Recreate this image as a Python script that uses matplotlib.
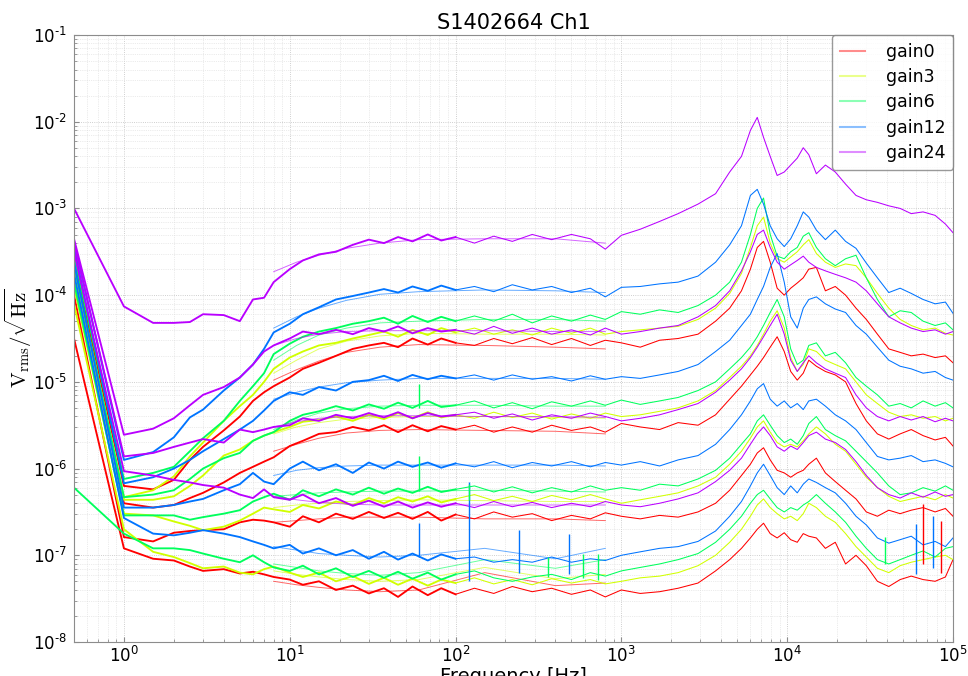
import numpy as np
import matplotlib
matplotlib.use("Agg")
import matplotlib.pyplot as plt
from matplotlib.lines import Line2D
from matplotlib.ticker import FuncFormatter, LogLocator, NullFormatter

# Frequency grids (Hz): low-band sweep, averaged mid-band sweep and high-band sweep
f_low = [0.5, 1, 1.5, 2, 2.5, 3, 4, 5, 6, 7, 8, 10, 12, 15, 19, 24, 30, 37, 45, 55, 68, 82, 100]
f_mid = [8, 11, 15, 22, 35, 60, 150, 400, 800]
f_high = [100, 130, 170, 220, 290, 380, 500, 650, 800, 1000, 1300, 1700, 2200, 2900, 3700,
          4500, 5300, 6000, 6600, 7200, 7900, 8700, 9600, 10500, 11500, 12500, 13500, 15000,
          17000, 19500, 22500, 26000, 30000, 35000, 41000, 48000, 56000, 66000, 78000, 90000, 100000]

labels = ["gain0", "gain3", "gain6", "gain12", "gain24"]

# log10(V_rms/sqrt(Hz)) for four input levels per gain setting
gain0_low = [
    [-3.60, -6.20, -6.24, -6.13, -5.90, -5.75, -5.56, -5.40, -5.22, -5.12, -5.05, -4.95, -4.85, -4.78, -4.70, -4.62, -4.58, -4.55, -4.60, -4.50, -4.57, -4.50, -4.55],
    [-3.72, -6.40, -6.45, -6.42, -6.34, -6.28, -6.16, -6.05, -5.98, -5.92, -5.87, -5.74, -5.68, -5.60, -5.58, -5.52, -5.56, -5.50, -5.58, -5.50, -5.57, -5.51, -5.55],
    [-4.00, -6.79, -6.84, -6.74, -6.72, -6.71, -6.70, -6.62, -6.59, -6.60, -6.62, -6.67, -6.55, -6.62, -6.52, -6.58, -6.50, -6.57, -6.51, -6.58, -6.50, -6.60, -6.53],
    [-4.50, -6.92, -7.04, -7.06, -7.13, -7.18, -7.16, -7.21, -7.19, -7.22, -7.25, -7.28, -7.34, -7.30, -7.40, -7.35, -7.44, -7.38, -7.48, -7.36, -7.46, -7.38, -7.45],
]
gain0_mid = [
    [-4.98, -4.86, -4.76, -4.66, -4.60, -4.57, -4.58, -4.60, -4.62],
    [-5.80, -5.72, -5.65, -5.59, -5.56, -5.55, -5.56, -5.57, -5.60],
    [-6.62, -6.60, -6.58, -6.56, -6.56, -6.56, -6.58, -6.58, -6.60],
    [-7.30, -7.34, -7.37, -7.40, -7.42, -7.40, -7.20, -7.35, -7.32],
]
gain0_high = [
    [-4.55, -4.58, -4.50, -4.56, -4.49, -4.57, -4.50, -4.58, -4.52, -4.55, -4.60, -4.52, -4.50, -4.45, -4.30, -4.15, -3.95, -3.70, -3.45, -3.38, -3.62, -3.92, -4.00, -3.92, -3.86, -3.80, -3.70, -3.68, -3.95, -3.90, -4.00, -4.15, -4.28, -4.45, -4.62, -4.66, -4.70, -4.68, -4.72, -4.70, -4.78],
    [-5.55, -5.50, -5.58, -5.52, -5.58, -5.50, -5.56, -5.52, -5.58, -5.48, -5.52, -5.55, -5.47, -5.50, -5.38, -5.20, -5.05, -4.92, -4.82, -4.72, -4.60, -4.48, -4.65, -4.88, -4.98, -4.90, -4.75, -4.82, -4.88, -4.92, -5.00, -5.25, -5.45, -5.60, -5.66, -5.60, -5.55, -5.62, -5.67, -5.64, -5.74],
    [-6.53, -6.58, -6.50, -6.56, -6.52, -6.60, -6.54, -6.58, -6.51, -6.55, -6.58, -6.54, -6.56, -6.50, -6.40, -6.25, -6.08, -5.95, -5.82, -5.76, -5.90, -6.02, -6.05, -6.10, -6.05, -6.02, -5.95, -5.88, -6.05, -6.15, -6.25, -6.35, -6.50, -6.55, -6.48, -6.52, -6.48, -6.45, -6.50, -6.46, -6.55],
    [-7.45, -7.38, -7.44, -7.36, -7.42, -7.38, -7.45, -7.40, -7.48, -7.40, -7.44, -7.42, -7.38, -7.32, -7.18, -7.05, -6.92, -6.80, -6.70, -6.63, -6.75, -6.80, -6.74, -6.82, -6.85, -6.75, -6.78, -6.80, -6.92, -6.85, -7.10, -7.00, -7.12, -7.30, -7.36, -7.28, -7.24, -7.28, -7.30, -7.25, -7.05],
]

gain3_low = [
    [-3.70, -6.33, -6.25, -6.09, -5.86, -5.70, -5.45, -5.28, -5.15, -5.00, -4.85, -4.72, -4.65, -4.58, -4.55, -4.50, -4.46, -4.42, -4.48, -4.40, -4.46, -4.38, -4.43],
    [-3.80, -6.36, -6.36, -6.32, -6.20, -6.08, -5.85, -5.78, -5.68, -5.62, -5.58, -5.52, -5.46, -5.44, -5.40, -5.45, -5.38, -5.43, -5.36, -5.42, -5.35, -5.41, -5.38],
    [-3.90, -6.52, -6.54, -6.61, -6.66, -6.71, -6.67, -6.60, -6.52, -6.45, -6.47, -6.50, -6.42, -6.46, -6.38, -6.42, -6.34, -6.40, -6.33, -6.38, -6.32, -6.39, -6.35],
    [-4.10, -6.70, -6.96, -7.02, -7.09, -7.15, -7.13, -7.20, -7.22, -7.16, -7.13, -7.20, -7.25, -7.20, -7.30, -7.24, -7.33, -7.26, -7.34, -7.27, -7.35, -7.28, -7.32],
]
gain3_mid = [
    [-4.90, -4.75, -4.62, -4.53, -4.47, -4.44, -4.45, -4.45, -4.46],
    [-5.60, -5.52, -5.47, -5.43, -5.41, -5.40, -5.40, -5.41, -5.42],
    [-6.45, -6.42, -6.40, -6.38, -6.37, -6.36, -6.37, -6.38, -6.38],
    [-7.18, -7.22, -7.25, -7.28, -7.30, -7.28, -7.14, -7.27, -7.22],
]
gain3_high = [
    [-4.43, -4.38, -4.45, -4.40, -4.46, -4.38, -4.44, -4.38, -4.45, -4.42, -4.40, -4.38, -4.36, -4.28, -4.15, -3.98, -3.75, -3.45, -3.20, -3.10, -3.40, -3.58, -3.62, -3.56, -3.50, -3.42, -3.36, -3.52, -3.62, -3.68, -3.64, -3.66, -3.80, -3.98, -4.15, -4.28, -4.35, -4.40, -4.38, -4.44, -4.46],
    [-5.38, -5.42, -5.35, -5.41, -5.36, -5.43, -5.37, -5.42, -5.36, -5.40, -5.38, -5.34, -5.30, -5.22, -5.10, -4.95, -4.82, -4.70, -4.58, -4.45, -4.30, -4.18, -4.38, -4.72, -4.88, -4.80, -4.62, -4.65, -4.75, -4.80, -4.85, -5.00, -5.15, -5.25, -5.35, -5.40, -5.38, -5.42, -5.40, -5.45, -5.42],
    [-6.35, -6.30, -6.37, -6.32, -6.38, -6.31, -6.36, -6.30, -6.35, -6.40, -6.36, -6.32, -6.28, -6.20, -6.10, -5.95, -5.80, -5.65, -5.52, -5.45, -5.58, -5.70, -5.75, -5.72, -5.75, -5.68, -5.60, -5.52, -5.60, -5.72, -5.80, -5.95, -6.10, -6.22, -6.32, -6.38, -6.35, -6.32, -6.36, -6.30, -6.34],
    [-7.32, -7.26, -7.33, -7.28, -7.34, -7.27, -7.32, -7.28, -7.33, -7.30, -7.26, -7.24, -7.20, -7.12, -7.00, -6.85, -6.70, -6.55, -6.42, -6.35, -6.45, -6.52, -6.58, -6.55, -6.60, -6.52, -6.40, -6.45, -6.55, -6.62, -6.75, -6.90, -7.02, -7.15, -7.20, -7.12, -7.08, -7.05, -7.02, -7.00, -7.05],
]

gain6_low = [
    [-3.55, -6.12, -6.05, -5.98, -5.80, -5.65, -5.45, -5.22, -5.05, -4.90, -4.68, -4.56, -4.48, -4.42, -4.38, -4.33, -4.30, -4.26, -4.33, -4.24, -4.31, -4.25, -4.30],
    [-3.65, -6.33, -6.30, -6.25, -6.12, -6.00, -5.88, -5.82, -5.68, -5.62, -5.58, -5.45, -5.38, -5.34, -5.28, -5.33, -5.26, -5.31, -5.24, -5.30, -5.22, -5.29, -5.27],
    [-3.85, -6.54, -6.54, -6.54, -6.59, -6.56, -6.52, -6.48, -6.38, -6.33, -6.29, -6.36, -6.25, -6.32, -6.24, -6.30, -6.22, -6.29, -6.23, -6.28, -6.21, -6.27, -6.24],
    [-6.22, -6.75, -6.92, -6.92, -6.94, -6.98, -7.04, -7.08, -7.00, -7.08, -7.14, -7.18, -7.12, -7.22, -7.15, -7.25, -7.18, -7.26, -7.19, -7.27, -7.20, -7.28, -7.22],
]
gain6_mid = [
    [-4.75, -4.58, -4.46, -4.38, -4.32, -4.30, -4.28, -4.28, -4.30],
    [-5.55, -5.44, -5.36, -5.31, -5.28, -5.27, -5.27, -5.28, -5.28],
    [-6.32, -6.30, -6.28, -6.27, -6.26, -6.26, -6.25, -6.26, -6.27],
    [-7.10, -7.14, -7.18, -7.21, -7.23, -7.20, -7.05, -7.15, -7.05],
]
gain6_high = [
    [-4.30, -4.24, -4.30, -4.22, -4.32, -4.24, -4.30, -4.23, -4.28, -4.19, -4.22, -4.17, -4.20, -4.12, -4.00, -3.85, -3.62, -3.30, -3.00, -2.88, -3.30, -3.55, -3.58, -3.50, -3.45, -3.32, -3.28, -3.45, -3.58, -3.66, -3.58, -3.54, -3.80, -4.05, -4.25, -4.18, -4.20, -4.30, -4.35, -4.32, -4.40],
    [-5.27, -5.22, -5.30, -5.24, -5.31, -5.23, -5.28, -5.22, -5.27, -5.21, -5.26, -5.22, -5.18, -5.10, -5.00, -4.85, -4.72, -4.60, -4.48, -4.35, -4.20, -4.05, -4.25, -4.62, -4.80, -4.75, -4.58, -4.55, -4.70, -4.66, -4.78, -4.95, -5.05, -5.15, -5.28, -5.25, -5.30, -5.22, -5.28, -5.24, -5.30],
    [-6.24, -6.20, -6.27, -6.21, -6.28, -6.22, -6.27, -6.20, -6.25, -6.22, -6.25, -6.18, -6.20, -6.12, -6.02, -5.88, -5.72, -5.60, -5.45, -5.38, -5.50, -5.62, -5.70, -5.66, -5.72, -5.62, -5.48, -5.40, -5.55, -5.62, -5.68, -5.80, -5.92, -6.05, -6.20, -6.30, -6.28, -6.22, -6.26, -6.20, -6.25],
    [-7.22, -7.18, -7.26, -7.30, -7.25, -7.22, -7.28, -7.20, -7.24, -7.18, -7.14, -7.10, -7.05, -6.98, -6.85, -6.70, -6.55, -6.40, -6.30, -6.25, -6.35, -6.45, -6.50, -6.45, -6.48, -6.42, -6.38, -6.30, -6.40, -6.50, -6.62, -6.78, -6.92, -7.05, -7.10, -7.05, -7.00, -6.95, -7.02, -6.92, -6.90],
]

gain12_low = [
    [-3.38, -5.90, -5.81, -5.64, -5.41, -5.32, -5.10, -4.95, -4.80, -4.62, -4.43, -4.33, -4.22, -4.14, -4.05, -4.01, -3.97, -3.93, -3.97, -3.90, -3.95, -3.89, -3.94],
    [-3.45, -6.17, -6.10, -6.00, -5.90, -5.80, -5.66, -5.55, -5.45, -5.33, -5.22, -5.12, -5.15, -5.06, -5.10, -5.00, -4.98, -4.93, -4.99, -4.92, -4.97, -4.93, -4.96],
    [-3.62, -6.45, -6.45, -6.42, -6.38, -6.35, -6.25, -6.18, -6.05, -6.15, -6.18, -6.00, -5.92, -6.02, -5.95, -6.05, -5.93, -6.00, -5.92, -5.98, -5.93, -5.99, -5.94],
    [-3.75, -6.57, -6.75, -6.77, -6.74, -6.71, -6.75, -6.79, -6.84, -6.88, -6.92, -6.88, -6.98, -6.92, -7.00, -6.94, -7.04, -6.96, -7.05, -6.98, -7.06, -6.99, -7.04],
]
gain12_mid = [
    [-4.38, -4.25, -4.15, -4.06, -3.99, -3.96, -3.94, -3.95, -3.97],
    [-5.20, -5.12, -5.06, -5.01, -4.98, -4.96, -4.96, -4.96, -4.97],
    [-6.08, -6.02, -5.99, -5.97, -5.96, -5.96, -5.96, -5.96, -5.97],
    [-6.90, -6.94, -6.98, -7.00, -7.02, -7.00, -6.92, -7.04, -6.92],
]
gain12_high = [
    [-3.94, -3.90, -3.96, -3.88, -3.94, -3.90, -3.97, -3.92, -4.02, -3.91, -3.90, -3.87, -3.85, -3.78, -3.62, -3.42, -3.20, -2.85, -2.78, -2.95, -3.20, -3.35, -3.44, -3.35, -3.20, -3.04, -3.10, -3.25, -3.36, -3.25, -3.38, -3.46, -3.63, -3.80, -3.97, -3.92, -3.98, -4.05, -4.10, -4.08, -4.21],
    [-4.96, -4.92, -4.98, -4.92, -4.97, -4.94, -4.99, -4.93, -4.97, -4.94, -4.96, -4.92, -4.88, -4.80, -4.65, -4.52, -4.35, -4.22, -4.05, -3.90, -3.68, -3.52, -3.85, -4.25, -4.38, -4.15, -4.05, -4.02, -4.10, -4.16, -4.20, -4.35, -4.45, -4.60, -4.75, -4.82, -4.85, -4.90, -4.88, -4.95, -4.98],
    [-5.94, -5.98, -5.92, -5.99, -5.93, -5.97, -5.92, -5.98, -5.93, -5.96, -5.92, -5.97, -5.90, -5.85, -5.72, -5.55, -5.38, -5.22, -5.08, -5.02, -5.20, -5.28, -5.22, -5.30, -5.25, -5.32, -5.22, -5.20, -5.28, -5.38, -5.45, -5.55, -5.70, -5.86, -5.90, -5.88, -5.85, -5.92, -5.90, -5.94, -5.98],
    [-7.04, -7.02, -7.08, -7.05, -7.08, -7.02, -7.08, -7.04, -7.06, -7.00, -6.96, -6.92, -6.90, -6.84, -6.72, -6.55, -6.38, -6.20, -6.05, -5.95, -6.08, -6.22, -6.30, -6.20, -6.28, -6.18, -6.12, -6.16, -6.22, -6.28, -6.40, -6.55, -6.65, -6.80, -6.86, -6.82, -6.78, -6.88, -6.84, -6.90, -6.80],
]

gain24_low = [
    [-3.00, -4.13, -4.32, -4.32, -4.31, -4.22, -4.23, -4.30, -4.05, -4.03, -3.85, -3.70, -3.60, -3.53, -3.50, -3.42, -3.36, -3.40, -3.33, -3.38, -3.30, -3.37, -3.33],
    [-3.35, -5.61, -5.54, -5.42, -5.27, -5.15, -5.06, -4.95, -4.80, -4.65, -4.58, -4.50, -4.42, -4.45, -4.40, -4.45, -4.38, -4.42, -4.36, -4.44, -4.38, -4.42, -4.40],
    [-3.40, -5.86, -5.82, -5.75, -5.70, -5.66, -5.70, -5.55, -5.58, -5.55, -5.52, -5.50, -5.42, -5.45, -5.38, -5.42, -5.36, -5.41, -5.35, -5.42, -5.36, -5.40, -5.38],
    [-3.50, -6.03, -6.08, -6.13, -6.16, -6.19, -6.22, -6.30, -6.34, -6.24, -6.33, -6.36, -6.30, -6.40, -6.34, -6.43, -6.37, -6.44, -6.38, -6.45, -6.39, -6.44, -6.40],
]
gain24_mid = [
    [-3.73, -3.62, -3.54, -3.46, -3.40, -3.36, -3.35, -3.35, -3.40],
    [-4.58, -4.50, -4.45, -4.42, -4.41, -4.41, -4.41, -4.42, -4.42],
    [-5.52, -5.46, -5.42, -5.40, -5.39, -5.39, -5.40, -5.40, -5.41],
    [-6.32, -6.36, -6.39, -6.41, -6.42, -6.42, -6.42, -6.42, -6.42],
]
gain24_high = [
    [-3.33, -3.40, -3.32, -3.38, -3.30, -3.36, -3.30, -3.35, -3.47, -3.31, -3.24, -3.15, -3.06, -2.95, -2.83, -2.58, -2.40, -2.10, -1.95, -2.18, -2.40, -2.62, -2.58, -2.50, -2.42, -2.30, -2.38, -2.60, -2.50, -2.58, -2.72, -2.85, -2.90, -2.93, -2.97, -3.00, -3.06, -3.04, -3.08, -3.18, -3.28],
    [-4.40, -4.45, -4.36, -4.44, -4.38, -4.45, -4.40, -4.46, -4.38, -4.45, -4.42, -4.38, -4.35, -4.25, -4.12, -3.95, -3.72, -3.50, -3.30, -3.25, -3.45, -3.62, -3.70, -3.65, -3.60, -3.55, -3.62, -3.68, -3.72, -3.76, -3.80, -3.85, -3.95, -4.10, -4.25, -4.32, -4.38, -4.42, -4.40, -4.45, -4.42],
    [-5.38, -5.35, -5.42, -5.37, -5.44, -5.38, -5.42, -5.36, -5.40, -5.45, -5.42, -5.38, -5.32, -5.25, -5.12, -4.98, -4.85, -4.72, -4.60, -4.48, -4.35, -4.22, -4.45, -4.75, -4.88, -4.78, -4.70, -4.78, -4.85, -4.90, -4.95, -5.15, -5.30, -5.40, -5.45, -5.40, -5.44, -5.40, -5.46, -5.42, -5.45],
    [-6.40, -6.45, -6.38, -6.44, -6.39, -6.45, -6.40, -6.44, -6.38, -6.42, -6.44, -6.40, -6.35, -6.28, -6.15, -6.02, -5.88, -5.72, -5.60, -5.52, -5.62, -5.75, -5.80, -5.74, -5.78, -5.70, -5.62, -5.58, -5.66, -5.70, -5.78, -5.92, -6.08, -6.22, -6.30, -6.34, -6.28, -6.33, -6.27, -6.32, -6.30],
]

# Mains-related and high-frequency pickup spikes: frequency, log10 base, log10 top, gain index
spike_freq = [60, 60, 60, 120, 120, 240, 360, 480, 590, 720, 39000, 60000, 66000, 76000, 85000]
spike_base = [-7.02, -6.26, -5.30, -7.30, -6.36, -7.20, -7.25, -7.22, -7.26, -7.28, -7.10, -7.22, -7.10, -7.15, -7.20]
spike_top = [-6.63, -5.86, -5.02, -6.16, -6.18, -6.71, -7.02, -6.75, -6.98, -6.98, -6.79, -6.64, -6.41, -6.55, -6.60]
spike_gain = [3, 2, 2, 3, 2, 3, 2, 3, 2, 2, 2, 3, 0, 3, 0]

low_sets = [gain0_low, gain3_low, gain6_low, gain12_low, gain24_low]
mid_sets = [gain0_mid, gain3_mid, gain6_mid, gain12_mid, gain24_mid]
high_sets = [gain0_high, gain3_high, gain6_high, gain12_high, gain24_high]
colors = [plt.cm.hsv(i / 5.0) for i in range(5)]

fig = plt.figure(figsize=(9.68, 6.76), dpi=100)
ax = fig.add_axes([74 / 968, 1 - 642 / 676, (953 - 74) / 968, (642 - 35) / 676])

for gi in range(5):
    for lo, mi, hi in zip(low_sets[gi], mid_sets[gi], high_sets[gi]):
        ax.plot(f_low, 10 ** np.array(lo), color=colors[gi], lw=1.35)
        ax.plot(f_mid, 10 ** np.array(mi), color=colors[gi], lw=0.7, alpha=0.6)
        ax.plot(f_high, 10 ** np.array(hi), color=colors[gi], lw=0.75)

for f, b, t, g in zip(spike_freq, spike_base, spike_top, spike_gain):
    ax.vlines(f, 10 ** b, 10 ** t, color=colors[g], lw=1.0)

ax.set_xscale("log")
ax.set_yscale("log")
ax.set_xlim(0.5, 1e5)
ax.set_ylim(1e-8, 1e-1)


def decade_label(v, pos):
    k = int(round(np.log10(v)))
    if k < 0:
        return r"$\mathdefault{10^{\text{-}%d}}$" % (-k)
    return r"$\mathdefault{10^{%d}}$" % k


for axis in (ax.xaxis, ax.yaxis):
    axis.set_major_locator(LogLocator(base=10, numticks=20))
    axis.set_major_formatter(FuncFormatter(decade_label))
    axis.set_minor_locator(LogLocator(base=10, subs=np.arange(2, 10), numticks=20))
    axis.set_minor_formatter(NullFormatter())

ax.grid(True, which="major", ls=":", color="0.75", lw=0.6)
ax.grid(True, which="minor", ls=":", color="0.85", lw=0.5)
ax.set_axisbelow(True)
for s in ax.spines.values():
    s.set_color("0.55")
ax.tick_params(which="both", direction="in", labelsize=12, colors="0.55", labelcolor="black", pad=5)
ax.tick_params(axis="x", pad=3)
ax.tick_params(which="minor", length=2)

ax.set_title("S1402664 Ch1", fontsize=15, pad=4)
ax.set_xlabel("Frequency [Hz]", fontsize=14)
ax.xaxis.set_label_coords(0.5, -0.042)
ax.set_ylabel(r"$\mathrm{V_{rms}}/\sqrt{\mathrm{Hz}}$", fontsize=15, math_fontfamily="cm")
ax.yaxis.set_label_coords(-0.045, 0.5)

handles = [Line2D([], [], color=colors[i], lw=1.5, alpha=0.45) for i in range(5)]
leg = ax.legend(handles, labels, loc="upper right", fontsize=12.5, borderaxespad=0,
                handlelength=1.45, handletextpad=1.2, labelspacing=0.42, borderpad=0.45,
                fancybox=True)
leg.get_frame().set_edgecolor("0.5")

fig.savefig("out.png", dpi=100)
